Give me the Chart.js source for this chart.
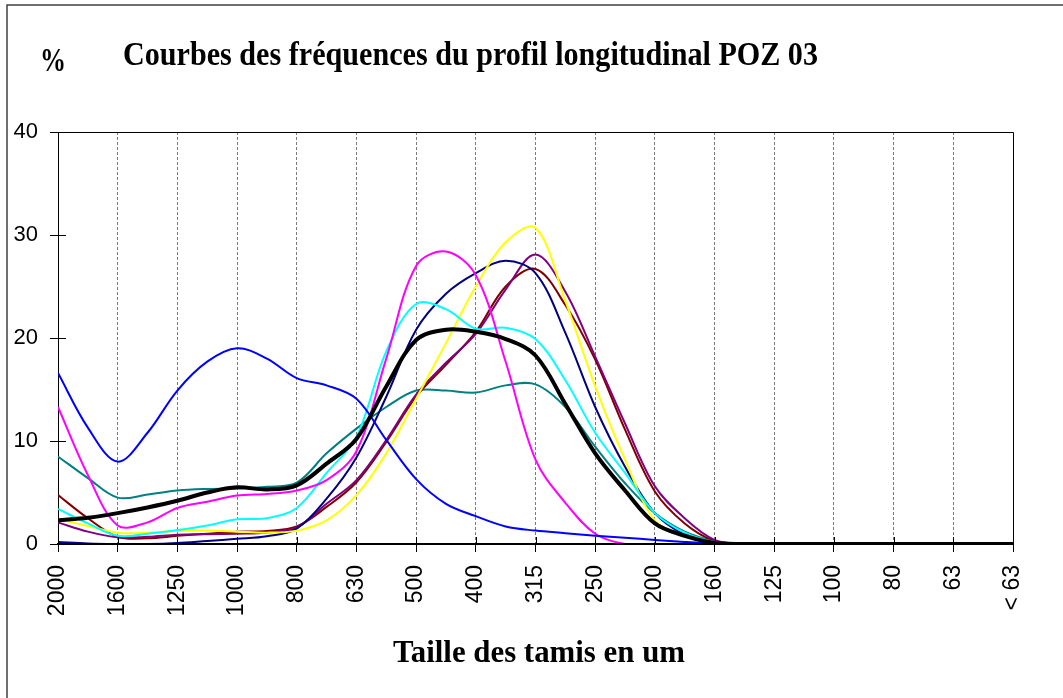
<!DOCTYPE html>
<html lang="fr">
<head>
<meta charset="utf-8">
<title>Courbes des fréquences du profil longitudinal POZ 03</title>
<script src="https://cdn.jsdelivr.net/npm/chart.js@4.4.1/dist/chart.umd.min.js"></script>
<style>
  html, body { margin: 0; padding: 0; background: #fff; }
  canvas { display: block; }
</style>
</head>
<body>
<canvas id="poz03" width="1063" height="698"></canvas>
<script>
// sieve openings in um, one per labelled gridline
const sieveLabels = ["2000", "1600", "1250", "1000", "800", "630", "500", "400", "315",
                     "250", "200", "160", "125", "100", "80", "63", "< 63"];
const yTicks = [0, 10, 20, 30, 40];

// frequencies (%) read every half step along the sieve axis (33 points)
const ech1 = [16.6, 11.3, 8.0, 10.8, 14.9, 17.7, 19.0, 18.0, 16.1, 15.4, 14.1, 10.1, 6.3, 3.9, 2.7, 1.7, 1.3,
              1.05, 0.8, 0.6, 0.4, 0.2, 0.05, 0, 0, 0, 0, 0, 0, 0, 0, 0, 0];
const ech2 = [13.3, 6.7, 1.8, 2.1, 3.5, 4.1, 4.7, 4.85, 5.2, 6.2, 9.0, 18.0, 27.0, 28.4, 26.1, 17.7, 8.2,
              4.0, 1.0, 0, 0, 0, 0, 0, 0, 0, 0, 0, 0, 0, 0, 0, 0];
const ech3 = [3.4, 2.0, 0.8, 1.0, 1.35, 1.8, 2.4, 2.5, 3.5, 6.9, 10.4, 18.7, 23.3, 22.8, 20.9, 21.0, 19.9,
              15.9, 10.8, 6.9, 3.0, 1.1, 0.2, 0, 0, 0, 0, 0, 0, 0, 0, 0, 0];
const ech4 = [2.4, 1.75, 1.1, 1.1, 1.26, 1.3, 1.2, 1.1, 1.3, 2.3, 4.75, 8.8, 14.1, 19.5, 25.0, 29.3, 30.7,
              23.6, 15.3, 8.2, 2.3, 0.8, 0.1, 0, 0, 0, 0, 0, 0, 0, 0, 0, 0];
const ech5 = [0.2, 0.05, 0, 0, 0.1, 0.3, 0.5, 0.75, 1.5, 4.4, 8.4, 14.3, 20.8, 24.3, 26.3, 27.5, 26.3,
              20.5, 13.3, 7.5, 3.0, 0.9, 0.1, 0, 0, 0, 0, 0, 0, 0, 0, 0, 0];
const ech6 = [2.1, 1.2, 0.65, 0.7, 0.9, 0.95, 1.0, 1.1, 1.6, 3.9, 6.2, 10.1, 14.5, 17.6, 20.4, 24.7, 28.1,
              24.5, 18.2, 11.7, 5.6, 2.5, 0.4, 0, 0, 0, 0, 0, 0, 0, 0, 0, 0];
const ech7 = [4.75, 2.5, 0.7, 0.55, 0.8, 1.0, 1.2, 1.26, 1.7, 3.6, 6.0, 9.9, 14.3, 17.4, 20.6, 25.0, 26.7,
              23.2, 17.9, 11.1, 5.1, 2.0, 0.3, 0, 0, 0, 0, 0, 0, 0, 0, 0, 0];
const ech8 = [8.5, 6.4, 4.5, 4.8, 5.2, 5.35, 5.4, 5.55, 5.95, 8.8, 11.2, 13.3, 14.9, 14.9, 14.7, 15.4, 15.5,
              13.3, 9.45, 5.9, 3.0, 1.2, 0.3, 0.05, 0, 0, 0, 0, 0, 0, 0, 0, 0];
const moyenne = [2.3, 2.55, 3.0, 3.55, 4.2, 5.0, 5.5, 5.3, 5.7, 7.8, 10.2, 15.3, 19.8, 20.8, 20.6, 19.9, 18.3,
                 13.6, 8.8, 5.2, 2.0, 0.8, 0.1, 0, 0, 0, 0, 0, 0, 0, 0, 0, 0];

const series = [
  { label: "Moyenne", data: moyenne, color: "#000000", width: 4 },
  { label: "Ech. 1", data: ech1, color: "#0000FF", width: 2 },
  { label: "Ech. 2", data: ech2, color: "#FF00FF", width: 2 },
  { label: "Ech. 3", data: ech3, color: "#00FFFF", width: 2 },
  { label: "Ech. 4", data: ech4, color: "#FFFF00", width: 2 },
  { label: "Ech. 5", data: ech5, color: "#000080", width: 2 },
  { label: "Ech. 6", data: ech6, color: "#800080", width: 2 },
  { label: "Ech. 7", data: ech7, color: "#800000", width: 2 },
  { label: "Ech. 8", data: ech8, color: "#008080", width: 2 },
];

// draws text squeezed to a given width (condensed Times-like headings)
function fitText(ctx, text, x, y, width, font) {
  ctx.save();
  ctx.font = font;
  ctx.fillStyle = "#000";
  ctx.textBaseline = "alphabetic";
  ctx.textAlign = "left";
  const w = ctx.measureText(text).width;
  ctx.translate(x, y);
  ctx.scale(width / w, 1);
  ctx.fillText(text, 0, 0);
  ctx.restore();
}

const framePlugin = {
  id: "frame",
  afterDatasetsDraw(chart) {
    const { ctx, chartArea: a, scales } = chart;
    ctx.save();
    ctx.strokeStyle = "#000";
    ctx.lineWidth = 1;
    // top and right edges of the plot area
    ctx.beginPath();
    ctx.moveTo(a.left, a.top + 0.5);
    ctx.lineTo(a.right + 0.5, a.top + 0.5);
    ctx.lineTo(a.right + 0.5, a.bottom);
    ctx.stroke();
    // inner half of the crossing tick marks
    ctx.beginPath();
    scales.y.ticks.forEach(t => {
      const py = Math.round(scales.y.getPixelForValue(t.value)) + 0.5;
      ctx.moveTo(a.left, py);
      ctx.lineTo(a.left + 8, py);
    });
    scales.x.ticks.forEach(t => {
      const px = Math.round(scales.x.getPixelForValue(t.value)) + 0.5;
      ctx.moveTo(px, a.bottom);
      ctx.lineTo(px, a.bottom - 7);
    });
    ctx.stroke();
    // category axis line
    ctx.lineWidth = 2;
    ctx.beginPath();
    ctx.moveTo(a.left, a.bottom);
    ctx.lineTo(a.right + 1, a.bottom);
    ctx.stroke();
    ctx.restore();
  },
  afterDraw(chart) {
    const ctx = chart.ctx;
    fitText(ctx, "%", 40, 71, 26, 'bold 33px "Liberation Serif"');
    fitText(ctx, "Courbes des fréquences du profil longitudinal POZ 03", 123, 65, 695,
            'bold 34px "Liberation Serif"');
    fitText(ctx, "Taille des tamis en um", 393, 662, 292, 'bold 32px "Liberation Serif"');
    // outer chart border
    ctx.save();
    ctx.strokeStyle = "#404040";
    ctx.lineWidth = 1.5;
    ctx.beginPath();
    ctx.moveTo(7, 698);
    ctx.lineTo(7, 5);
    ctx.lineTo(1063, 5);
    ctx.stroke();
    ctx.restore();
  }
};

new Chart(document.getElementById("poz03"), {
  type: "line",
  data: {
    datasets: series.map(s => ({
      label: s.label,
      data: s.data.map((v, i) => ({ x: i / 2, y: v })),
      borderColor: s.color,
      borderWidth: s.width,
      pointRadius: 0,
      tension: 0.35,
      fill: false,
    })),
  },
  options: {
    responsive: false,
    animation: false,
    devicePixelRatio: 1,
    layout: { padding: { left: 0, top: 132, right: 50, bottom: 0 } },
    plugins: { legend: { display: false }, tooltip: { enabled: false }, title: { display: false } },
    scales: {
      x: {
        type: "linear",
        min: 0,
        max: sieveLabels.length - 1,
        afterFit: s => { s.height = 154; },
        afterBuildTicks: s => { s.ticks = sieveLabels.map((_, i) => ({ value: i })); },
        ticks: {
          autoSkip: false,
          minRotation: 90,
          maxRotation: 90,
          padding: 13,
          color: "#000",
          font: { family: "Liberation Sans", size: 23 },
          callback: v => sieveLabels[v],
        },
        grid: {
          color: c => (c.index === 0 || c.index === sieveLabels.length - 1) ? "rgba(0,0,0,0)" : "#7a7a7a",
          lineWidth: 1,
          tickLength: 8,
          tickColor: "#000",
          tickBorderDash: [],
        },
        // in v4 the grid line dash lives under border
        border: { color: "#000", width: 2, dash: [3, 2] },
      },
      y: {
        min: 0,
        max: 40,
        afterFit: s => { s.width = 58; },
        afterBuildTicks: s => { s.ticks = yTicks.map(v => ({ value: v })); },
        ticks: {
          padding: 12,
          color: "#000",
          font: { family: "Liberation Sans", size: 22 },
        },
        grid: { drawOnChartArea: false, tickLength: 8, tickColor: "#000" },
        border: { color: "#000", width: 1 },
      },
    },
  },
  plugins: [framePlugin],
});
</script>
</body>
</html>
